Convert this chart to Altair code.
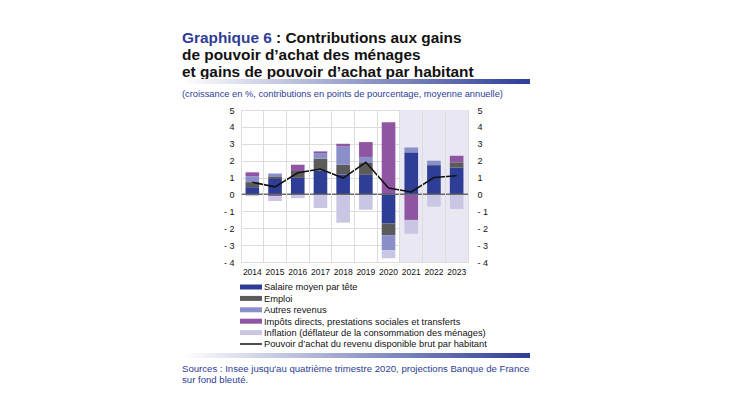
import altair as alt
import pandas as pd

years = ["2014", "2015", "2016", "2017", "2018", "2019", "2020", "2021", "2022", "2023"]
series_names = [
    "Salaire moyen par tête",
    "Emploi",
    "Autres revenus",
    "Impôts directs, prestations sociales et transferts",
    "Inflation (déflateur de la consommation des ménages)",
]
salaire = [0.43, 0.92, 0.98, 1.41, 1.18, 1.16, -1.71, 2.49, 1.73, 1.59]
emploi = [0.30, 0.12, 0.41, 0.71, 0.58, 0.74, -0.70, 0.00, 0.05, 0.31]
autres = [0.35, 0.20, 0.00, 0.33, 1.08, 0.32, -0.90, 0.29, 0.22, 0.00]
impots = [0.23, -0.10, 0.37, 0.10, 0.16, 0.88, 4.27, -1.51, 0.00, 0.39]
inflation = [-0.10, -0.29, -0.22, -0.80, -1.67, -0.90, -0.47, -0.82, -0.72, -0.86]
pouvoir = [0.72, 0.45, 1.28, 1.50, 0.97, 1.90, 0.38, 0.15, 1.00, 1.10]
line_name = "Pouvoir d’achat du revenu disponible brut par habitant"
forecast_years = ["2021", "2022", "2023"]
colors = ["#2e3d96", "#5b5b5b", "#8b8fc9", "#8f55a2", "#c8c6e3"]

BLUE = "#2e3d96"
FONT = "Liberation Sans"

rows = []
for si, (name, vals) in enumerate(zip(series_names, [salaire, emploi, autres, impots, inflation])):
    for y, v in zip(years, vals):
        rows.append({"year": y, "serie": name, "value": v, "ord": si})
bars_df = pd.DataFrame(rows)
line_df = pd.DataFrame({"year": years, "value": pouvoir})
shade_df = pd.DataFrame({"year": forecast_years})

xscale = alt.Scale(domain=years, paddingInner=0, paddingOuter=0)
ydom = alt.Scale(domain=[-4, 5], nice=False, zero=False)
label_expr = "datum.value < 0 ? '- ' + abs(datum.value) : '' + datum.value"

shade = alt.Chart(shade_df).mark_rect(color="#e9e7f2").encode(
    x=alt.X("year:O", scale=xscale, title=None,
            axis=alt.Axis(grid=True, bandPosition=0, gridColor="#dcdcdc", ticks=False, domain=False,
                          labelAngle=0, labelFont=FONT, labelFontSize=8.5, labelColor="#111",
                          labelPadding=5)),
)

bars = alt.Chart(bars_df).mark_bar(width=alt.RelativeBandSize(0.6)).encode(
    x=alt.X("year:O", scale=xscale),
    y=alt.Y("value:Q", scale=ydom, stack="zero", title=None,
            axis=alt.Axis(orient="left", values=list(range(-4, 6)), labelExpr=label_expr, grid=True,
                          gridColor="#dcdcdc", ticks=False, domain=False, labelFont=FONT,
                          labelFontSize=9, labelColor="#111", labelPadding=7)),
    color=alt.Color("serie:N", scale=alt.Scale(domain=series_names, range=colors), legend=None),
    order=alt.Order("ord:Q", sort="ascending"),
)

zero = alt.Chart(line_df).mark_rule(color="#6a6a6a", strokeWidth=1).encode(
    y=alt.datum(0, scale=ydom, axis=None),
)

line = alt.Chart(line_df).mark_line(color="#111", strokeWidth=1.5).encode(
    x=alt.X("year:O", scale=xscale),
    y=alt.Y("value:Q", scale=ydom, title=None,
            axis=alt.Axis(orient="right", values=list(range(-4, 6)), labelExpr=label_expr, grid=False,
                          ticks=False, domain=False, labelFont=FONT, labelFontSize=9,
                          labelColor="#111", labelPadding=9)),
)

deco = []
def txt(s, x, y, size=9, color="#111", bold=False):
    return alt.Chart(line_df.head(1)).mark_text(
        text=s, align="left", baseline="alphabetic", font=FONT, fontSize=size, color=color,
        fontWeight="bold" if bold else "normal").encode(x=alt.value(x), y=alt.value(y))

grad = alt.Gradient(gradient="linear", x1=0, x2=1, y1=0, y2=0,
                    stops=[alt.GradientStop(color="#ffffff", offset=0),
                           alt.GradientStop(color=BLUE, offset=1)])
def gbar(y):
    return alt.Chart(line_df.head(1)).mark_rect(fill=grad).encode(
        x=alt.value(-59), x2=alt.value(289), y=alt.value(y), y2=alt.value(y + 5))

TS = 15.4
deco.append(txt("Graphique 6", -59, -67, TS, BLUE, True))
deco.append(txt(": Contributions aux gains", 35, -67, TS, "#111", True))
deco.append(txt("de pouvoir d’achat des ménages", -59, -50, TS, "#111", True))
deco.append(txt("et gains de pouvoir d’achat par habitant", -59, -33, TS, "#111", True))
deco.append(gbar(-31))
deco.append(txt("(croissance en %, contributions en points de pourcentage, moyenne annuelle)", -59, -13, 9.3, BLUE))

ly0, ldy = 177, 11.4
for i, (name, col) in enumerate(zip(series_names, colors)):
    yc = ly0 + i * ldy
    deco.append(alt.Chart(line_df.head(1)).mark_rect(color=col).encode(
        x=alt.value(-1), x2=alt.value(21), y=alt.value(yc - 2.5), y2=alt.value(yc + 2.5)))
    deco.append(txt(name, 23, yc + 3.3, 9.3))
yc = ly0 + 5 * ldy
deco.append(alt.Chart(line_df.head(1)).mark_rule(color="#111", strokeWidth=1.5).encode(
    x=alt.value(-1), x2=alt.value(21), y=alt.value(yc)))
deco.append(txt(line_name, 23, yc + 3.3, 9.3))

deco.append(gbar(243))
deco.append(txt("Sources : Insee jusqu'au quatrième trimestre 2020, projections Banque de France", -59, 262, 9.6, BLUE))
deco.append(txt("sur fond bleuté.", -59, 272.5, 9.6, BLUE))

chart = alt.layer(shade, bars, zero, line, *deco).resolve_scale(y="independent").properties(
    width=227, height=152,
    autosize=alt.AutoSizeParams(type="none"),
    padding={"left": 233, "top": 102, "right": 250, "bottom": 140},
).configure_view(stroke="#8a93d0", strokeWidth=1.2).configure(background="white")

chart.save("out.html", embed_options={"renderer": "svg", "actions": False})
